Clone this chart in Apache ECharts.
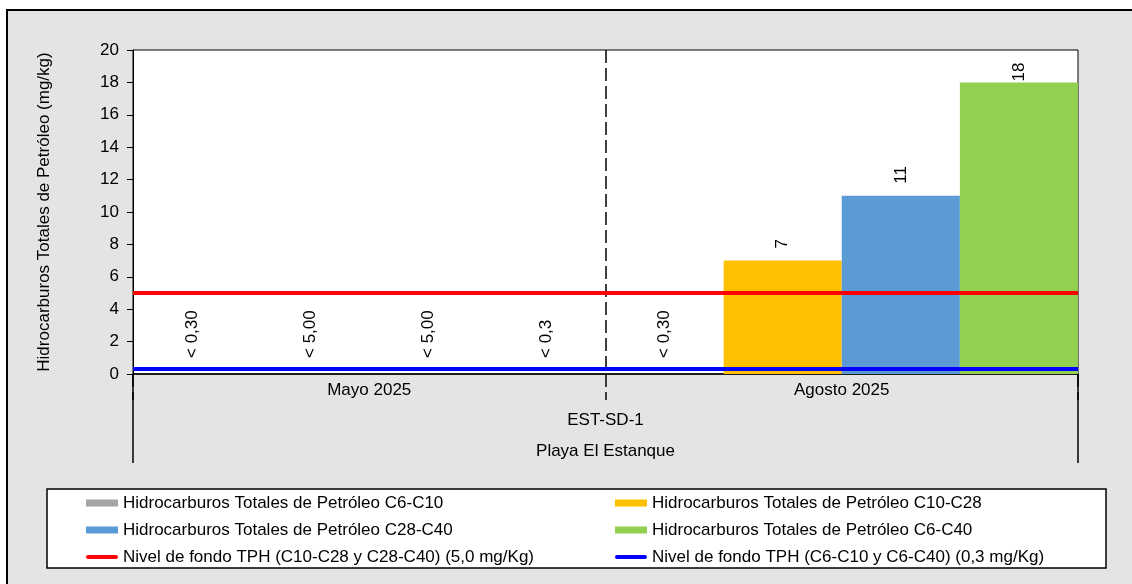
<!DOCTYPE html>
<html>
<head>
<meta charset="utf-8">
<script src="https://cdn.jsdelivr.net/npm/echarts@6/dist/echarts.min.js"></script>
<style>
  html, body { margin: 0; padding: 0; background: #ffffff; overflow: hidden; width: 1132px; height: 584px; }
  #frame { position: absolute; left: 6px; top: 9px; right: 0; bottom: 0; border-left: 2px solid #000; border-top: 2px solid #000; background: #e4e4e4; }
  #chart { position: absolute; left: 0; top: 0; width: 1132px; height: 584px; }
</style>
</head>
<body>
<div id="frame"></div>
<div id="chart"></div>
<script>
// ---- data ----
const categories = ['Mayo 2025', 'Agosto 2025'];
const stationLabels = ['EST-SD-1'];
const siteLabels = ['Playa El Estanque'];

const seriesNames = [
  'Hidrocarburos Totales de Petróleo C6-C10',
  'Hidrocarburos Totales de Petróleo C10-C28',
  'Hidrocarburos Totales de Petróleo C28-C40',
  'Hidrocarburos Totales de Petróleo C6-C40'
];
const tphC6C10 = [0, 0];
const tphC6C10Labels = ['< 0,30', '< 0,30'];
const tphC10C28 = [0, 7];
const tphC10C28Labels = ['< 5,00', '7'];
const tphC28C40 = [0, 11];
const tphC28C40Labels = ['< 5,00', '11'];
const tphC6C40 = [0, 18];
const tphC6C40Labels = ['< 0,3', '18'];

const levelNames = [
  'Nivel de fondo TPH (C10-C28 y C28-C40) (5,0 mg/Kg)',
  'Nivel de fondo TPH (C6-C10 y C6-C40) (0,3 mg/Kg)'
];
const levelValues = [5.0, 0.3];

const yMin = 0, yMax = 20, yInterval = 2;
const yAxisName = 'Hidrocarburos Totales de Petróleo (mg/kg)';

// ---- styles ----
const FONT = '"Liberation Sans", Arial, sans-serif';
const barColors = ['#A5A5A5', '#FFC000', '#5B9BD5', '#92D050'];
const levelColors = ['#FF0000', '#0000FF'];
const LINE_ICON = 'path://M2,0 L30,0 A2,2 0 0 1 30,4 L2,4 A2,2 0 0 1 2,0 Z';

const barValues = [tphC6C10, tphC10C28, tphC28C40, tphC6C40];
const barLabels = [tphC6C10Labels, tphC10C28Labels, tphC28C40Labels, tphC6C40Labels];

// label gap above bar: below-detection labels sit a little higher; labels near top are kept inside the plot
function labelDistance(v) {
  if (v <= 0) return 16;
  if (v >= yMax - 3) return 1;
  return 12;
}

const barSeries = seriesNames.map((name, s) => ({
  name: name,
  type: 'bar',
  xAxisIndex: 0,
  yAxisIndex: 0,
  barGap: '0%',
  barCategoryGap: '0%',
  itemStyle: { color: barColors[s] },
  data: barValues[s].map((v) => ({
    value: v,
    label: { distance: labelDistance(v) }
  })),
  label: {
    show: true,
    position: 'top',
    rotate: 90,
    align: 'left',
    verticalAlign: 'middle',
    fontFamily: FONT,
    fontSize: 17,
    color: '#000',
    formatter: (p) => barLabels[s][p.dataIndex]
  },
  silent: true
}));

const levelSeries = levelNames.map((name, i) => ({
  name: name,
  type: 'line',
  xAxisIndex: 0,
  yAxisIndex: 0,
  data: [],
  symbol: 'none',
  showSymbol: false,
  lineStyle: { color: levelColors[i], width: 4 },
  itemStyle: { color: levelColors[i] },
  z: 5,
  markLine: {
    silent: true,
    symbol: ['none', 'none'],
    label: { show: false },
    lineStyle: { color: levelColors[i], width: 4, type: 'solid' },
    data: [{ yAxis: levelValues[i] }]
  }
}));

const chart = echarts.init(document.getElementById('chart'), null, { renderer: 'canvas' });

const legendCommon = {
  orient: 'vertical',
  top: 493,
  padding: 0,
  itemWidth: 32,
  itemHeight: 7,
  itemGap: 7,
  selectedMode: false,
  textStyle: { fontFamily: FONT, fontSize: 17, color: '#000', lineHeight: 20 }
};
const barLegendItem = (i) => ({ name: seriesNames[i], icon: 'rect' });
const lineLegendItem = (i) => ({ name: levelNames[i], icon: LINE_ICON });

chart.setOption({
  animation: false,
  backgroundColor: 'transparent',
  textStyle: { fontFamily: FONT },
  grid: {
    left: 133, right: 54, top: 50, bottom: 210,
    show: true, backgroundColor: '#ffffff', borderColor: '#000', borderWidth: 1,
    outerBoundsMode: 'none', containLabel: false
  },
  graphic: [{
    type: 'rect', z: 1, silent: true,
    shape: { x: 47, y: 489, width: 1059, height: 79 },
    style: { fill: '#ffffff', stroke: '#000', lineWidth: 1.5 }
  }],
  legend: [
    Object.assign({}, legendCommon, { left: 86, data: [barLegendItem(0), barLegendItem(2), lineLegendItem(0)] }),
    Object.assign({}, legendCommon, { left: 615, data: [barLegendItem(1), barLegendItem(3), lineLegendItem(1)] })
  ],
  xAxis: [
    {
      type: 'category', data: categories, position: 'bottom', boundaryGap: true,
      axisLine: { show: true, onZero: false, lineStyle: { color: '#000', width: 1.5 } },
      axisTick: { show: true, interval: 0, length: 26, lineStyle: { color: '#000', width: 1.5, type: [13, 5] } },
      axisLabel: { show: true, interval: 0, margin: 8, fontFamily: FONT, fontSize: 17, color: '#000' },
      splitLine: { show: true, interval: 0, showMinLine: false, showMaxLine: false, lineStyle: { color: '#000', width: 1.5, type: [13, 5] } }
    },
    {
      type: 'category', data: stationLabels, position: 'bottom', boundaryGap: true,
      axisLine: { show: false, onZero: false },
      axisTick: { show: true, interval: 0, length: 89, lineStyle: { color: '#000', width: 1.5 } },
      axisLabel: { show: true, interval: 0, margin: 38, fontFamily: FONT, fontSize: 17, color: '#000' },
      splitLine: { show: false }
    },
    {
      type: 'category', data: siteLabels, position: 'bottom', boundaryGap: true,
      axisLine: { show: false, onZero: false },
      axisTick: { show: false },
      axisLabel: { show: true, interval: 0, margin: 69, fontFamily: FONT, fontSize: 17, color: '#000' },
      splitLine: { show: false }
    }
  ],
  yAxis: [{
    type: 'value', min: yMin, max: yMax, interval: yInterval,
    name: yAxisName, nameLocation: 'middle', nameGap: 80, nameRotate: 90,
    nameTextStyle: { fontFamily: FONT, fontSize: 17, color: '#000' },
    axisLine: { show: true, lineStyle: { color: '#000', width: 1 } },
    axisTick: { show: true, inside: false, length: 6, lineStyle: { color: '#000' } },
    axisLabel: { margin: 14, fontFamily: FONT, fontSize: 17, color: '#000' },
    splitLine: { show: false }
  }],
  series: barSeries.concat(levelSeries)
});
</script>
</body>
</html>
